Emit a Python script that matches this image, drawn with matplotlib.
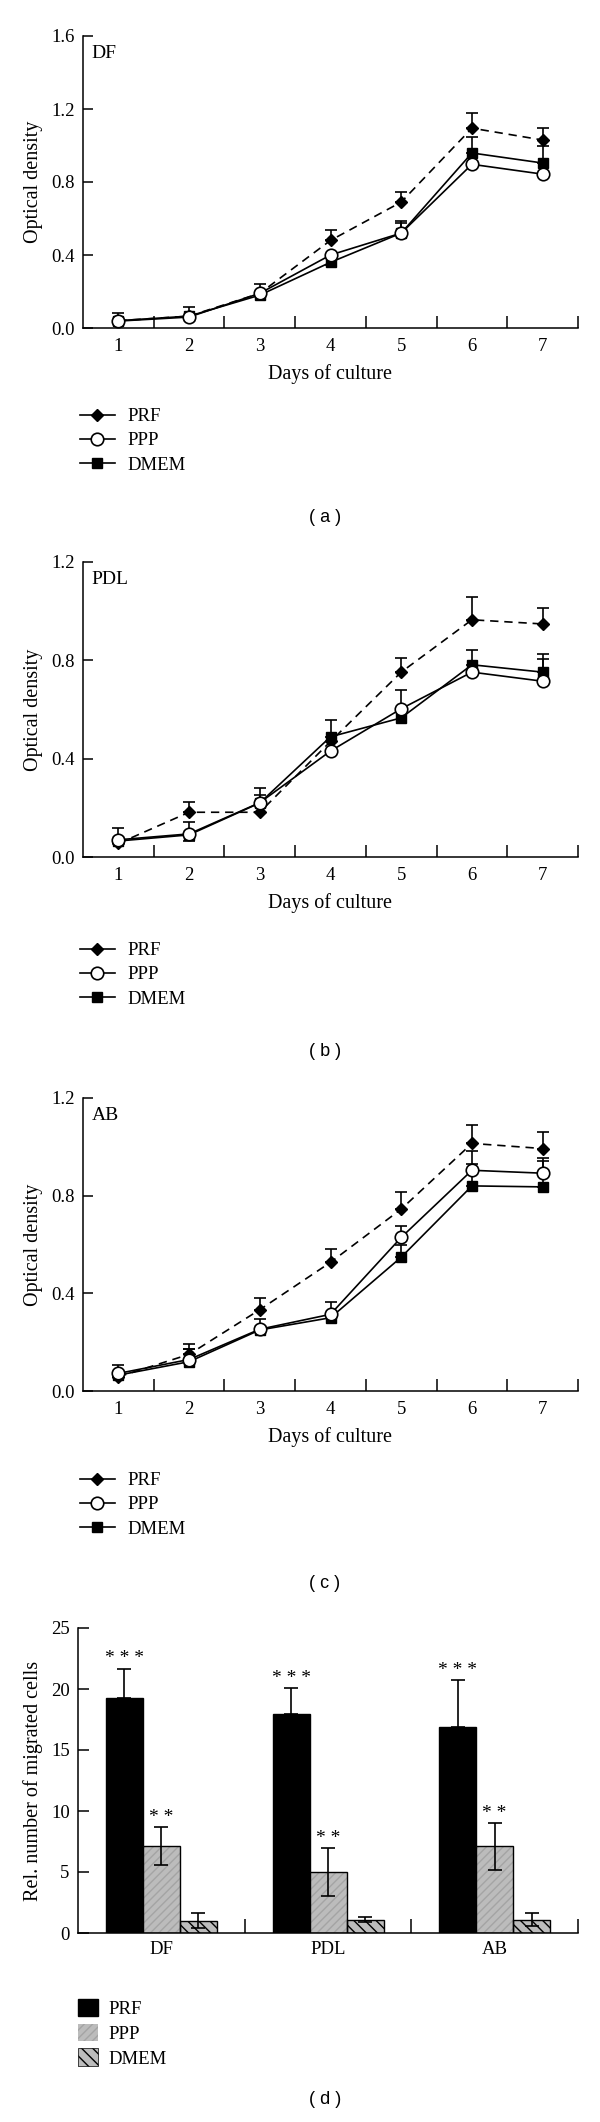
import numpy as np
import matplotlib
matplotlib.use('Agg')
import matplotlib.pyplot as plt
from matplotlib.lines import Line2D
from matplotlib.patches import Patch

plt.rcParams['font.family'] = ['Liberation Serif', 'DejaVu Serif']
plt.rcParams['hatch.linewidth'] = 1.0

days = [1, 2, 3, 4, 5, 6, 7]

# (a) DF
df_prf = [0.04, 0.065, 0.19, 0.48, 0.69, 1.095, 1.03]
df_prf_up = [0, 0, 0, 0.055, 0.055, 0.083, 0.066]
df_ppp = [0.038, 0.06, 0.19, 0.40, 0.52, 0.897, 0.843]
df_ppp_up = [0.044, 0.055, 0.05, 0, 0.067, 0, 0]
df_ppp_lo = [0, 0, 0, 0.055, 0, 0, 0]
df_dmem = [0.04, 0.065, 0.18, 0.36, 0.52, 0.959, 0.904]
df_dmem_up = [0, 0, 0, 0, 0.055, 0.088, 0.093]

# (b) PDL
pdl_prf = [0.055, 0.182, 0.182, 0.47, 0.752, 0.965, 0.948]
pdl_prf_up = [0.062, 0.043, 0.07, 0, 0.057, 0.091, 0.064]
pdl_ppp = [0.07, 0.094, 0.221, 0.431, 0.603, 0.752, 0.715]
pdl_ppp_up = [0, 0.05, 0.06, 0, 0.075, 0, 0.11]
pdl_ppp_lo = [0, 0.027, 0, 0, 0, 0, 0]
pdl_dmem = [0.065, 0.09, 0.22, 0.489, 0.566, 0.782, 0.752]
pdl_dmem_up = [0, 0, 0, 0.067, 0, 0.058, 0.054]

# (c) AB
ab_prf = [0.058, 0.15, 0.333, 0.527, 0.745, 1.014, 0.993]
ab_prf_up = [0.048, 0.044, 0.049, 0.055, 0.068, 0.077, 0.067]
ab_ppp = [0.072, 0.129, 0.253, 0.314, 0.629, 0.904, 0.892]
ab_ppp_up = [0, 0.045, 0, 0.05, 0.045, 0.079, 0.063]
ab_ppp_lo = [0, 0, 0, 0, 0, 0, 0]
ab_dmem = [0.065, 0.12, 0.25, 0.30, 0.548, 0.84, 0.836]
ab_dmem_up = [0, 0.05, 0.046, 0, 0.052, 0.088, 0.106]

# (d) migration
cells = ['DF', 'PDL', 'AB']
mig_prf = [19.26, 17.91, 16.87]
mig_prf_err = [2.42, 2.15, 3.88]
mig_ppp = [7.13, 5.0, 7.1]
mig_ppp_err = [1.53, 1.95, 1.9]
mig_dmem = [1.0, 1.1, 1.1]
mig_dmem_err = [0.6, 0.2, 0.5]
prf_stars = ['* * *', '* * *', '* * *']
ppp_stars = ['* *', '* *', '* *']

W, H = 600, 2122
fig = plt.figure(figsize=(W / 100, H / 100), dpi=100)


def box(left, top, right, bottom):
    return [left / W, 1 - bottom / H, (right - left) / W, (bottom - top) / H]


def errs(x, y, up, lo, ax):
    x = np.array(x, float); y = np.array(y, float)
    up = np.array(up, float); lo = np.array(lo, float)
    m = (up > 0) | (lo > 0)
    if m.any():
        ax.errorbar(x[m], y[m], yerr=[lo[m], up[m]], fmt='none', ecolor='k',
                    elinewidth=1.2, capsize=4.5, capthick=1.2, zorder=2)


def line_panel(pos, name, ymax, prf, prf_up, ppp, ppp_up, ppp_lo, dmem, dmem_up):
    ax = fig.add_axes(pos)
    zero = [0] * len(days)
    errs(days, prf, prf_up, zero, ax)
    errs(days, ppp, ppp_up, ppp_lo, ax)
    errs(days, dmem, dmem_up, zero, ax)
    ax.plot(days, prf, color='k', lw=1.2, ls=(0, (5, 3.5)), marker='D', ms=6.5,
            mfc='k', mec='k', zorder=4)
    ax.plot(days, dmem, color='k', lw=1.2, marker='s', ms=7, mfc='k', mec='k', zorder=4)
    ax.plot(days, ppp, color='k', lw=1.2, marker='o', ms=9, mfc='white', mec='k',
            mew=1.2, zorder=5)
    ax.set_xlim(0.5, 7.5)
    ax.set_ylim(0, ymax)
    ax.set_xticks(days)
    ax.set_xticks(np.arange(1.5, 8, 1), minor=True)
    ax.set_yticks(np.arange(0, ymax + 0.01, 0.4))
    ax.set_yticklabels(['%.1f' % v for v in np.arange(0, ymax + 0.01, 0.4)])
    ax.tick_params(axis='x', which='major', length=0, pad=7, labelsize=13.5)
    ax.tick_params(axis='x', which='minor', direction='in', length=9, width=1.1)
    ax.tick_params(axis='y', direction='in', length=7, width=1.1, pad=6, labelsize=13.5)
    for s in ['top', 'right']:
        ax.spines[s].set_visible(False)
    for s in ['left', 'bottom']:
        ax.spines[s].set_linewidth(1.1)
    ax.set_xlabel('Days of culture', fontsize=14.5, labelpad=7)
    ax.set_ylabel('Optical density', fontsize=14.5, labelpad=6)
    ax.text(0.017, 0.94, name, transform=ax.transAxes, fontsize=14, va='center', ha='left')
    return ax


line_handles = [
    Line2D([], [], color='k', lw=1.2, marker='D', ms=6.5, mfc='k'),
    Line2D([], [], color='k', lw=1.2, marker='o', ms=9, mfc='white', mew=1.2),
    Line2D([], [], color='k', lw=1.2, marker='s', ms=7, mfc='k'),
]
names = ['PRF', 'PPP', 'DMEM']


def line_legend(top):
    fig.legend(line_handles, names, loc='upper left',
               bbox_to_anchor=(80 / W, 1 - top / H), frameon=False, borderpad=0,
               borderaxespad=0, handlelength=1.85, handletextpad=0.7,
               labelspacing=0.38, fontsize=13.5)


line_panel(box(83, 36, 578, 328), 'DF', 1.6, df_prf, df_prf_up, df_ppp, df_ppp_up,
           df_ppp_lo, df_dmem, df_dmem_up)
line_legend(408)
fig.text(325 / W, 1 - 518 / H, '( a )', ha='center', va='center', fontsize=13,
         family='Liberation Sans')

line_panel(box(83, 562, 578, 857), 'PDL', 1.2, pdl_prf, pdl_prf_up, pdl_ppp, pdl_ppp_up,
           pdl_ppp_lo, pdl_dmem, pdl_dmem_up)
line_legend(942)
fig.text(325 / W, 1 - 1052 / H, '( b )', ha='center', va='center', fontsize=13,
         family='Liberation Sans')

line_panel(box(83, 1098, 578, 1391), 'AB', 1.2, ab_prf, ab_prf_up, ab_ppp, ab_ppp_up,
           ab_ppp_lo, ab_dmem, ab_dmem_up)
line_legend(1472)
fig.text(325 / W, 1 - 1584 / H, '( c )', ha='center', va='center', fontsize=13,
         family='Liberation Sans')

# bar panel
ax = fig.add_axes(box(78, 1628, 578, 1933))
x = np.arange(len(cells))
bw = 0.222
gray = '#bcbcbc'
ax.bar(x - bw, mig_prf, bw, color='k', edgecolor='k', lw=1, zorder=2)
ax.bar(x, mig_ppp, bw, color=gray, edgecolor='#a4a4a4', hatch='////', lw=0, zorder=2)
ax.bar(x, mig_ppp, bw, color='none', edgecolor='k', lw=1, zorder=3)
ax.bar(x + bw, mig_dmem, bw, color=gray, edgecolor='k', hatch='\\\\\\', lw=1, zorder=2)
ax.errorbar(x - bw, mig_prf, yerr=[np.zeros(3), mig_prf_err], fmt='none', ecolor='k',
            elinewidth=1.2, capsize=5, capthick=1.2, zorder=4)
ax.errorbar(x, mig_ppp, yerr=mig_ppp_err, fmt='none', ecolor='k',
            elinewidth=1.2, capsize=5, capthick=1.2, zorder=4)
ax.errorbar(x + bw, mig_dmem, yerr=mig_dmem_err, fmt='none', ecolor='k',
            elinewidth=1.2, capsize=5, capthick=1.2, zorder=4)
for i in range(len(cells)):
    ax.text(x[i] - bw, mig_prf[i] + mig_prf_err[i] + 0.1, prf_stars[i], ha='center',
            va='bottom', fontsize=14)
    ax.text(x[i], mig_ppp[i] + mig_ppp_err[i] + 0.1, ppp_stars[i], ha='center',
            va='bottom', fontsize=14)
ax.set_xlim(-0.5, 2.5)
ax.set_ylim(0, 25)
ax.set_xticks(x)
ax.set_xticklabels(cells)
ax.set_xticks([0.5, 1.5, 2.5], minor=True)
ax.set_yticks([0, 5, 10, 15, 20, 25])
ax.tick_params(axis='x', which='major', length=0, pad=6, labelsize=13.5)
ax.tick_params(axis='x', which='minor', direction='in', length=10, width=1.1)
ax.tick_params(axis='y', direction='in', length=8, width=1.1, pad=6, labelsize=13.5)
for s in ['top', 'right']:
    ax.spines[s].set_visible(False)
for s in ['left', 'bottom']:
    ax.spines[s].set_linewidth(1.1)
ax.set_ylabel('Rel. number of migrated cells', fontsize=14.5, labelpad=6)

bar_handles = [
    Patch(facecolor='k', edgecolor='k'),
    Patch(facecolor=gray, edgecolor='#a4a4a4', hatch='////', lw=0),
    Patch(facecolor=gray, edgecolor='k', hatch='\\\\\\', lw=0.5),
]
fig.legend(bar_handles, names, loc='upper left', bbox_to_anchor=(78 / W, 1 - 1999 / H),
           frameon=False, borderpad=0, borderaxespad=0, handlelength=1.05,
           handleheight=1.05, handletextpad=0.6, labelspacing=0.3, fontsize=13.5)
fig.text(325 / W, 1 - 2100 / H, '( d )', ha='center', va='center', fontsize=13,
         family='Liberation Sans')

fig.savefig('out.png', dpi=100)
